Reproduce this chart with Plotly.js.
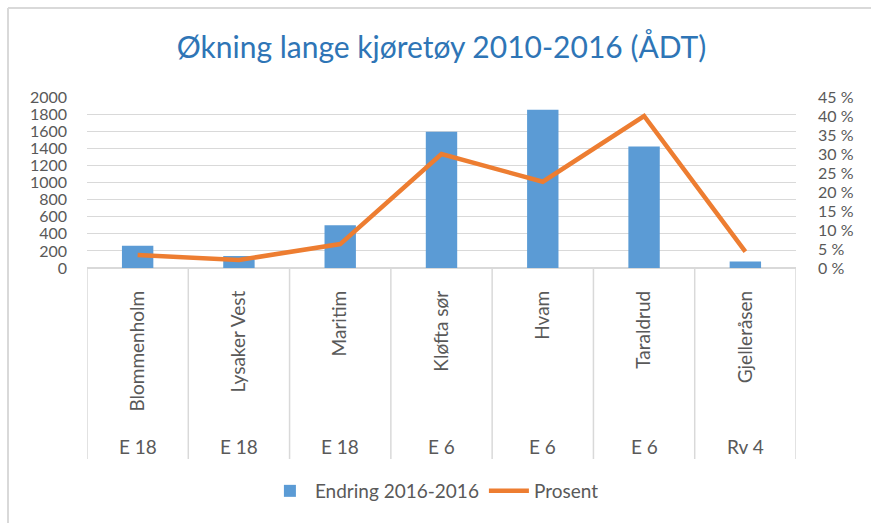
<!DOCTYPE html>
<html>
<head>
<meta charset="utf-8">
<script src="https://cdn.plot.ly/plotly-3.0.1.min.js"></script>
<style>html,body{margin:0;padding:0;background:#fff;}#chart{width:871px;height:523px;}</style>
</head>
<body>
<div id="chart"></div>
<script>
const sites = ["Blommenholm", "Lysaker Vest", "Maritim", "Kløfta sør", "Hvam", "Taraldrud", "Gjelleråsen"];
const roads = ["E 18", "E 18", "E 18", "E 6", "E 6", "E 6", "Rv 4"];
const endring = [260, 140, 500, 1595, 1850, 1420, 75];
const prosent = [3.4, 2.1, 6.3, 30.0, 22.7, 40.0, 4.3];
const leftTicks = [0, 200, 400, 600, 800, 1000, 1200, 1400, 1600, 1800, 2000];
const rightTicks = [0, 5, 10, 15, 20, 25, 30, 35, 40, 45];

const FONT = "Lato, 'Open Sans', sans-serif";
const GRAY = "#595959";
const GRID = "#D9D9D9";

const plotTop = 97, plotBottom = 268, plotH = plotBottom - plotTop;
const py = v => (plotBottom - v) / plotH; // pixel -> paper y

const traces = [
  {
    type: "bar", name: "Endring 2016-2016", x: sites, y: endring,
    marker: {color: "#5B9BD5"}, yaxis: "y"
  },
  {
    type: "scatter", mode: "lines", name: "Prosent", x: sites, y: prosent,
    line: {color: "#ED7D31", width: 4.5, shape: "linear"}, yaxis: "y2"
  }
];

const shapes = [];
for (let i = 0; i <= sites.length; i++) {
  shapes.push({type: "line", xref: "x", yref: "paper", x0: i - 0.5, x1: i - 0.5,
    y0: 0, y1: py(459), line: {color: GRID, width: 1.5}, layer: "below"});
}
// outer chart frame (left and top edges)
shapes.push({type: "line", xref: "paper", yref: "paper",
  x0: (8 - 87) / (796 - 87), x1: (8 - 87) / (796 - 87), y0: py(8), y1: py(530),
  line: {color: GRID, width: 2}});
shapes.push({type: "line", xref: "paper", yref: "paper",
  x0: (8 - 87) / (796 - 87), x1: (880 - 87) / (796 - 87), y0: py(8), y1: py(8),
  line: {color: GRID, width: 2}});

const annotations = roads.map((r, i) => ({
  text: r, x: sites[i], xref: "x", y: py(446), yref: "paper",
  showarrow: false, font: {family: FONT, size: 19, color: GRAY},
  xanchor: "center", yanchor: "middle"
}));

const layout = {
  width: 871, height: 523,
  margin: {l: 87, r: 75, t: plotTop, b: 523 - plotBottom, pad: 0},
  paper_bgcolor: "#fff", plot_bgcolor: "#fff",
  title: {text: "Økning lange kjøretøy 2010-2016 (ÅDT)", x: 0.5, xref: "paper", xanchor: "center",
    y: 1 - 47 / 523, yanchor: "middle", font: {family: FONT, size: 30, color: "#2E75B6"}},
  font: {family: FONT, color: GRAY},
  bargap: 0.69,
  showlegend: true,
  legend: {orientation: "h", x: 0.49, xanchor: "center", y: py(491), yanchor: "middle",
    font: {family: FONT, size: 19, color: GRAY}, itemwidth: 40, traceorder: "normal"},
  xaxis: {
    type: "category", tickangle: -90, tickfont: {family: FONT, size: 19, color: GRAY},
    showgrid: false, zeroline: false, showline: false, ticks: "", ticklabelstandoff: 18,
    range: [-0.5, sites.length - 0.5]
  },
  yaxis: {
    range: [0, 2000], tickvals: leftTicks, ticktext: leftTicks.map(String),
    tickfont: {family: FONT, size: 16, color: GRAY},
    showgrid: true, gridcolor: GRID, gridwidth: 1, zeroline: true, zerolinecolor: GRID, zerolinewidth: 1.5,
    showline: false, ticks: "", ticklabelstandoff: 19
  },
  yaxis2: {
    overlaying: "y", side: "right", range: [0, 45], tickvals: rightTicks,
    ticktext: rightTicks.map(v => v + " %"),
    tickfont: {family: FONT, size: 16, color: GRAY},
    showgrid: false, zeroline: false, showline: false, ticks: "", ticklabelstandoff: 21
  },
  shapes: shapes,
  annotations: annotations
};

Plotly.newPlot("chart", traces, layout, {displayModeBar: false, staticPlot: true});
</script>
</body>
</html>
